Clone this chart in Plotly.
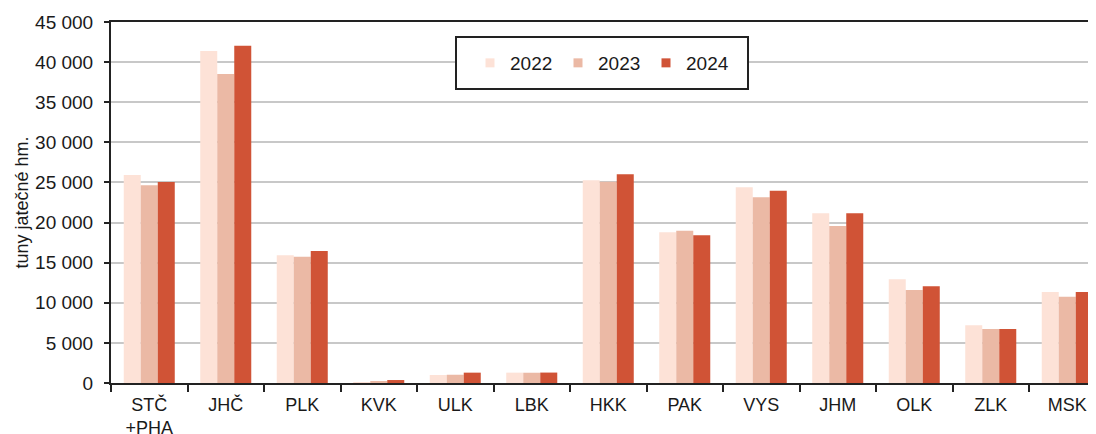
import plotly.graph_objects as go

categories = ["STČ<br>+PHA", "JHČ", "PLK", "KVK", "ULK", "LBK", "HKK", "PAK", "VYS", "JHM", "OLK", "ZLK", "MSK"]
years = ["2022", "2023", "2024"]
v2022 = [25930, 41380, 15910, 100, 1000, 1290, 25260, 18780, 24390, 21150, 12920, 7190, 11340]
v2023 = [24640, 38520, 15750, 250, 1030, 1280, 25100, 18990, 23150, 19570, 11590, 6730, 10760]
v2024 = [25050, 42050, 16450, 370, 1290, 1300, 26010, 18410, 23970, 21150, 12050, 6730, 11340]
colors = ["#FDE2D7", "#EBB9A5", "#D05336"]
y_ticks = [0, 5000, 10000, 15000, 20000, 25000, 30000, 35000, 40000, 45000]

series = [v2022, v2023, v2024]

fig = go.Figure()
for name, vals, col in zip(years, series, colors):
    fig.add_trace(go.Bar(x=categories, y=vals, name=name, marker=dict(color=col, line=dict(width=0)),
                         showlegend=False))
for name, col in zip(years, colors):
    fig.add_trace(go.Scatter(x=[None], y=[None], mode="markers", name=name,
                             marker=dict(symbol="square", size=9, color=col)))

OFF = 8  # page body margin
W, H = 1096 - OFF, 434 - OFF
ml, mr, mt, mb = 111 - OFF, 0, 22 - OFF, 434 - 383
cat_w = 76.5
plot_w = W - ml - mr
plot_h = H - mt - mb
x_max = -0.5 + plot_w / cat_w

def px_x(p):
    return (p - OFF - ml) / plot_w

def px_y(p):
    return (H - mb - (p - OFF)) / plot_h

fig.update_layout(
    width=W, height=H,
    margin=dict(l=ml, r=mr, t=mt, b=mb, autoexpand=False),
    paper_bgcolor="white", plot_bgcolor="white",
    separators=", ",
    barmode="group", bargap=0.333, bargroupgap=0,
    font=dict(family="Liberation Sans, Arial, sans-serif", size=16, color="#1a1a1a"),
    xaxis=dict(range=[-0.5, x_max], showline=True, linecolor="#222", linewidth=2, mirror=True,
               ticks="outside", tickson="boundaries", ticklen=7, tickwidth=2, tickcolor="#222",
               tickfont=dict(size=18), showgrid=False, fixedrange=True, automargin=False,
               ticklabelstandoff=4),
    yaxis=dict(range=[0, 45000], tickvals=y_ticks, tickformat=",d", showline=True, linecolor="#222",
               linewidth=2, ticks="outside", ticklen=5, tickwidth=2, tickcolor="#222",
               showgrid=True, gridcolor="#C8C8C8", gridwidth=2, zeroline=False,
               tickfont=dict(size=19), automargin=False, ticklabelstandoff=7,
               title=dict(text="tuny jatečné hm.", font=dict(size=18), standoff=2)),
    legend=dict(orientation="h", x=0.5 * (px_x(456) + px_x(748)), y=0.5 * (px_y(37) + px_y(89)),
                xanchor="center", yanchor="middle",
                bgcolor="rgba(0,0,0,0)", borderwidth=0, font=dict(size=19),
                entrywidth=43, entrywidthmode="pixels", itemsizing="trace"),
    shapes=[dict(type="rect", xref="paper", yref="paper", x0=px_x(456), x1=px_x(748),
                 y0=px_y(89), y1=px_y(37), line=dict(color="#222", width=2), fillcolor="white",
                 layer="above")],
)

fig.write_html("out.html")
